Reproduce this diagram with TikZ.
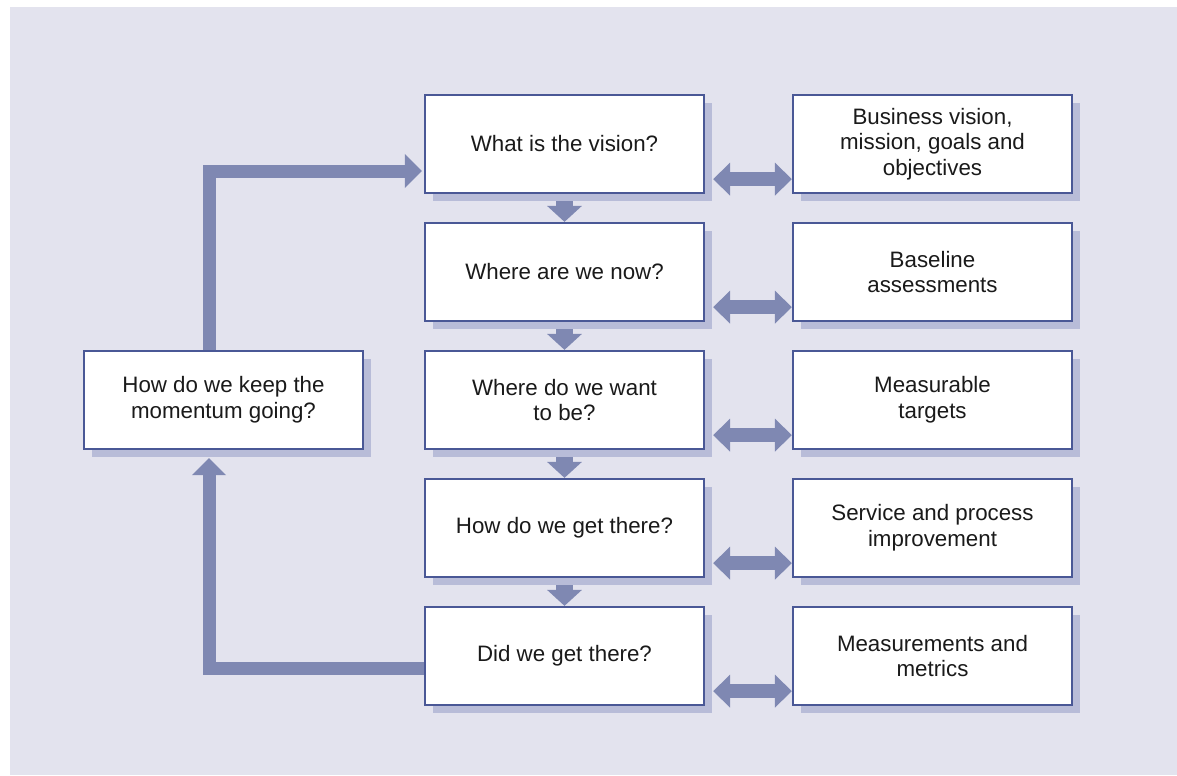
\documentclass[tikz,border=0pt]{standalone}
\usepackage{fontspec}
\setmainfont{Liberation Sans}
\usetikzlibrary{arrows.meta,calc,shadows}
\definecolor{panel}{HTML}{E3E3EE}
\definecolor{boxline}{HTML}{4A5896}
\definecolor{shade}{HTML}{B8BCD8}
\definecolor{flow}{HTML}{7F88B2}
\definecolor{ink}{HTML}{1A1A1A}
\pgfdeclarelayer{backdrop}
\pgfdeclarelayer{links}
\pgfsetlayers{backdrop,links,main}

\begin{document}
\begin{tikzpicture}[x=0.02cm,y=-0.02cm,
  stage/.style={draw=boxline, line width=1.3pt, fill=white,
    minimum width=5.58cm, minimum height=1.96cm, inner sep=0pt,
    align=center, text=ink, font=\fontsize{12.7}{14.6}\selectfont,
    drop shadow={shadow xshift=0.16cm, shadow yshift=-0.16cm, fill=shade, opacity=1}},
  stepdown/.style={draw=flow, line width=0.34cm,
    -{Triangle[width=0.68cm,length=0.32cm]}},
  twoway/.style={draw=flow, line width=0.28cm,
    {Triangle[width=0.64cm,length=0.34cm]}-{Triangle[width=0.64cm,length=0.34cm]}},
  loopback/.style={draw=flow, line width=0.26cm, line join=miter,
    -{Triangle[width=0.66cm,length=0.34cm]}}]

\useasboundingbox (0,0) rectangle (1177,775);
\begin{pgfonlayer}{backdrop}
  \fill[white] (0,0) rectangle (1177,775);
  \fill[panel] (10,7) rectangle (1177,775);
\end{pgfonlayer}

% central question column
\node[stage] (m1) at (564.5,144) {What is the vision?};
\node[stage] (m2) at (564.5,272) {Where are we now?};
\node[stage] (m3) at (564.5,400) {Where do we want\\to be?};
\node[stage] (m4) at (564.5,528) {How do we get there?};
\node[stage] (m5) at (564.5,656) {Did we get there?};

% answers column
\node[stage] (r1) at (932.5,144) {Business vision,\\mission, goals and\\objectives};
\node[stage] (r2) at (932.5,272) {Baseline\\assessments};
\node[stage] (r3) at (932.5,400) {Measurable\\targets};
\node[stage] (r4) at (932.5,528) {Service and process\\improvement};
\node[stage] (r5) at (932.5,656) {Measurements and\\metrics};

% continuation box
\node[stage] (keep) at (223.5,400) {How do we keep the\\momentum going?};

\begin{pgfonlayer}{links}
  \draw[stepdown] (m1.south) -- (m2.north);
  \draw[stepdown] (m2.south) -- (m3.north);
  \draw[stepdown] (m3.south) -- (m4.north);
  \draw[stepdown] (m4.south) -- (m5.north);
  \foreach \i in {1,...,5}
    \draw[twoway] ($(m\i.south east)+(8,-15)$) -- ($(r\i.south west)+(0,-15)$);
  \draw[loopback] ($(m5.west)+(0,12)$) -| ($(keep.south)+(-14.5,8)$);
  \draw[loopback] ($(keep.north)+(-14.5,0)$) |- ($(m1.west)+(-2,27)$);
\end{pgfonlayer}
\end{tikzpicture}
\end{document}
